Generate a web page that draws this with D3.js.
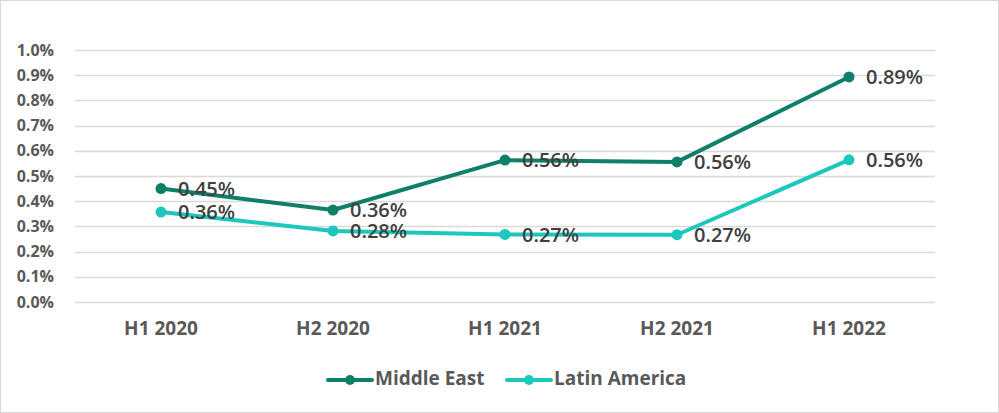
<!DOCTYPE html>
<html>
<head>
<meta charset="utf-8">
<script src="https://cdn.jsdelivr.net/npm/d3@7"></script>
<style>
  html, body { margin: 0; padding: 0; background: #fff; }
  svg { display: block; }
</style>
</head>
<body>
<div id="chart"></div>
<script>
  // ---------- data ----------
  const periods = ['H1 2020', 'H2 2020', 'H1 2021', 'H2 2021', 'H1 2022'];
  const middleEast = [0.45, 0.365, 0.563, 0.556, 0.893];
  const latinAmerica = [0.357, 0.282, 0.268, 0.267, 0.564];
  const seriesNames = ['Middle East', 'Latin America'];
  const yTicks = [0, 0.1, 0.2, 0.3, 0.4, 0.5, 0.6, 0.7, 0.8, 0.9, 1.0];

  const colors = ['#0f7f69', '#1cc7bb'];
  const W = 999, H = 413;
  const m = { left: 75, right: 64, top: 50, bottom: 111 };

  const svg = d3.select('#chart').append('svg')
    .attr('width', W).attr('height', H);

  svg.append('rect')
    .attr('x', 0.5).attr('y', 0.5)
    .attr('width', W - 1).attr('height', H - 1)
    .attr('fill', '#fff').attr('stroke', '#d9d9d9');

  const x = d3.scaleBand().domain(periods).range([m.left, W - m.right]);
  const y = d3.scaleLinear().domain([0, 1]).range([H - m.bottom, m.top]);

  // gridlines
  svg.append('g').selectAll('line').data(yTicks).join('line')
    .attr('x1', m.left).attr('x2', W - m.right)
    .attr('y1', d => Math.round(y(d)) + 0.5).attr('y2', d => Math.round(y(d)) + 0.5)
    .attr('stroke', '#d9d9d9').attr('stroke-width', 1.3);

  // y axis labels
  const yAxis = svg.append('g')
    .attr('transform', `translate(${m.left - 18},0)`)
    .call(d3.axisLeft(y).tickValues(yTicks).tickSize(0).tickFormat(d => d.toFixed(1) + '%'));
  yAxis.select('.domain').remove();
  yAxis.selectAll('text')
    .attr('fill', '#595959')
    .style('font', 'bold 16px "Open Sans", sans-serif');

  // x axis labels
  const xAxis = svg.append('g')
    .attr('transform', `translate(0,${H - m.bottom + 16})`)
    .call(d3.axisBottom(x).tickSize(0));
  xAxis.select('.domain').remove();
  xAxis.selectAll('text')
    .attr('fill', '#595959')
    .style('font', 'bold 19px "Open Sans", sans-serif');

  const cx = d => x(d) + x.bandwidth() / 2;
  const line = d3.line().x((d, i) => cx(periods[i])).y(d => y(d));

  [middleEast, latinAmerica].forEach((vals, si) => {
    const g = svg.append('g');
    g.append('path').datum(vals)
      .attr('d', line).attr('fill', 'none')
      .attr('stroke', colors[si]).attr('stroke-width', 4)
      .attr('stroke-linejoin', 'round');
    g.selectAll('circle').data(vals).join('circle')
      .attr('cx', (d, i) => cx(periods[i])).attr('cy', d => y(d))
      .attr('r', 5.5).attr('fill', colors[si]);
  });

  // data labels on top
  [middleEast, latinAmerica].forEach((vals, si) => {
    svg.append('g').selectAll('text').data(vals).join('text')
      .attr('x', (d, i) => cx(periods[i]) + 17)
      .attr('y', d => y(d) + 2)
      .attr('dominant-baseline', 'middle')
      .attr('fill', '#404040')
      .style('font', '600 20px "Open Sans", sans-serif')
      .text(d => d.toFixed(2) + '%');
  });

  // legend
  const legendX = [328, 507];
  const legend = svg.append('g').attr('transform', 'translate(0,380)');
  seriesNames.forEach((name, i) => {
    const lg = legend.append('g').attr('transform', `translate(${legendX[i]},0)`);
    lg.append('line').attr('x1', 0).attr('x2', 44).attr('y1', 0).attr('y2', 0)
      .attr('stroke', colors[i]).attr('stroke-width', 4).attr('stroke-linecap', 'round');
    lg.append('circle').attr('cx', 22).attr('cy', 0).attr('r', 5).attr('fill', colors[i]);
    lg.append('text').attr('x', 47).attr('y', 0)
      .attr('dominant-baseline', 'middle')
      .attr('fill', '#595959')
      .style('font', 'bold 19px "Open Sans", sans-serif')
      .text(name);
  });
</script>
</body>
</html>
